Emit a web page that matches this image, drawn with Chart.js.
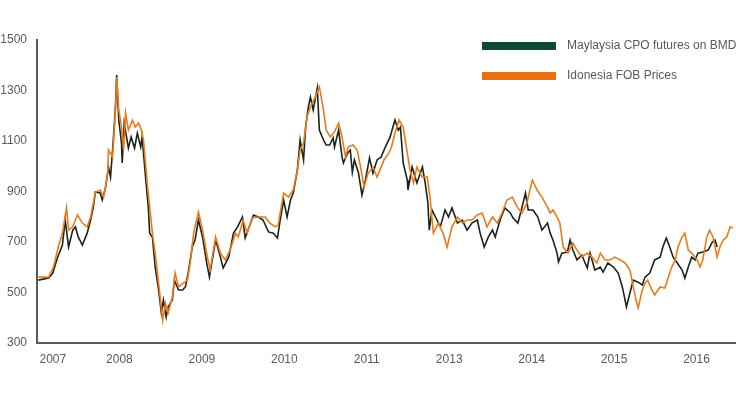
<!DOCTYPE html>
<html>
<head>
<meta charset="utf-8">
<script src="https://cdn.jsdelivr.net/npm/chart.js@4.4.0/dist/chart.umd.min.js"></script>
<style>
  body { margin: 0; background: #fff; }
  #wrap { width: 736px; height: 395px; }
</style>
</head>
<body>
<div id="wrap"><canvas id="grafica" width="736" height="395"></canvas></div>
<script>
// months since Jan 2007 and price (USD/t)
const malaysiaMonths = [0.2,1.7,2.3,3.0,3.7,4.1,4.6,5.2,5.6,6.0,6.6,7.3,7.8,8.2,8.5,9.2,9.5,10.0,10.4,10.7,11.0,11.4,11.6,11.9,12.3,12.4,12.7,13.3,13.7,14.2,14.6,15.1,15.3,15.8,16.2,16.4,16.8,17.2,17.7,18.1,18.4,18.8,19.1,19.7,20.0,20.6,21.2,21.6,22.0,22.6,23.0,23.5,24.1,24.7,25.1,26.0,26.7,27.1,27.9,28.6,29.2,29.9,30.3,31.1,31.5,32.2,32.9,33.7,34.4,35.0,35.4,35.9,36.4,36.9,37.3,37.9,38.3,38.8,39.1,39.5,39.8,40.2,40.8,41.1,41.7,42.1,42.6,43.1,43.3,43.9,44.4,44.6,45.2,45.6,45.9,46.2,46.8,47.3,47.8,48.4,48.9,49.5,50.1,50.7,51.4,52.1,52.6,52.9,53.3,53.9,54.0,54.6,55.3,56.1,56.5,56.9,57.1,57.5,58.0,58.7,59.4,59.9,60.4,61.2,61.9,62.6,63.3,64.1,64.5,65.1,65.7,66.3,66.7,67.4,68.1,68.9,69.3,70.0,70.6,71.1,71.5,72.2,72.9,73.5,74.3,74.7,75.1,75.7,75.9,76.4,77.2,77.6,78.0,78.6,79.3,80.1,80.5,81.2,82.0,82.4,83.1,83.9,84.6,85.2,85.8,86.3,86.8,87.5,88.1,88.5,89.2,89.9,90.7,91.1,91.6,92.1,92.6,93.2,93.9,94.3,94.8,95.3,95.8,96.2,96.9,97.7,98.3,98.7,99.0];
const malaysiaPrices = [549,557,577,640,688,787,680,747,760,720,688,735,787,838,898,894,866,918,997,957,1064,1223,1361,1183,1092,1013,1171,1072,1116,1072,1131,1076,1116,957,838,735,720,601,510,419,470,403,443,470,549,510,510,522,577,680,708,787,720,617,561,708,640,597,640,735,760,799,716,775,807,799,787,740,735,716,787,866,799,866,894,985,1104,1025,1155,1235,1274,1223,1310,1143,1104,1084,1084,1112,1076,1143,1037,1013,1052,1064,977,1025,973,886,945,1033,973,1025,1037,1076,1116,1183,1143,1155,1013,945,906,997,934,997,934,854,747,827,799,760,827,799,835,775,787,747,775,787,735,680,720,747,720,787,835,815,795,775,838,894,827,827,799,747,775,735,708,656,621,656,660,708,668,629,648,597,656,589,601,581,617,601,577,522,443,498,549,541,530,561,577,629,640,680,716,680,640,617,589,557,601,640,629,656,660,668,700,708,680];

const indonesiaMonths = [0.2,1.7,2.4,3.1,3.7,4.3,4.6,5.2,5.9,6.6,7.3,7.8,8.2,8.5,9.2,9.7,10.3,10.4,11.0,11.4,11.6,11.9,12.3,12.6,12.9,13.3,13.9,14.3,14.8,15.2,15.5,16.1,16.5,16.8,17.2,17.7,18.3,18.7,19.1,19.7,20.1,20.6,21.3,21.9,22.3,22.8,23.5,24.1,24.8,25.2,26.0,26.7,27.4,28.1,28.9,29.3,30.0,30.6,31.3,32.2,33.2,33.9,34.7,35.1,35.9,36.6,37.3,37.9,38.3,38.8,39.3,39.8,40.5,41.1,41.7,42.1,42.7,43.3,43.9,44.4,44.9,45.3,46.0,46.6,47.1,47.6,48.2,48.9,49.5,50.5,51.2,51.6,52.1,52.7,53.3,53.9,54.3,54.8,55.3,56.1,56.8,57.2,57.7,58.4,59.1,59.7,60.4,61.2,61.9,62.6,63.3,64.1,64.8,65.5,66.3,67.0,67.7,68.4,69.2,69.9,70.6,71.3,72.1,72.8,73.5,74.3,74.7,75.1,75.7,76.1,76.6,77.3,78.0,78.6,79.3,80.1,80.8,81.5,82.0,82.7,83.4,84.1,84.9,85.6,86.3,86.8,87.2,87.5,88.1,88.5,88.9,89.5,89.9,90.7,91.4,91.9,92.4,92.9,93.3,93.9,94.3,94.8,95.3,96.1,96.5,96.9,97.5,97.9,98.4,99.0,99.4,99.9,100.4,100.9,101.3];
const indonesiaPrices = [561,561,601,680,735,835,747,760,807,775,760,799,854,898,906,878,973,1064,1037,1211,1353,1223,1155,1064,1211,1143,1183,1155,1171,1143,1104,918,815,735,656,537,391,458,419,482,577,522,537,549,617,735,819,747,640,589,720,656,629,668,735,720,787,735,795,799,799,775,760,767,894,878,906,985,1064,1092,1195,1235,1274,1314,1223,1143,1116,1136,1171,1116,1037,1076,1084,1064,997,918,973,997,957,1025,1052,1076,1131,1183,1155,1052,985,934,997,957,957,878,735,775,735,680,760,799,775,787,787,807,815,760,799,775,815,866,878,838,815,854,945,906,878,838,815,827,799,775,680,656,696,668,640,656,640,617,656,629,629,640,629,617,589,522,470,439,510,537,549,510,490,522,518,561,601,629,680,720,735,668,656,629,601,629,720,747,720,640,680,708,720,760,755];

const tickMonths = [2.3, 12, 24, 36, 48, 60, 72, 84, 96];
const yearLabels = ['2007', '2008', '2009', '2010', '2011', '2013', '2014', '2015', '2016'];
const priceTicks = [300, 500, 700, 900, 1100, 1300, 1500];

const seriesNames = ['Maylaysia CPO futures on BMD', 'Idonesia FOB Prices'];
const legendColors = ['#0d4a36', '#e8700f'];

function toPoints(xs, ys) {
    return xs.map((x, i) => ({ x: x, y: ys[i] }));
}

const fuente = { family: "'Liberation Sans', Arial, sans-serif", size: 12 };
const gris = '#595959';

// leyenda vertical arriba a la derecha
const leyendaPlugin = {
    id: 'leyenda',
    afterDraw(chart) {
        const ctx = chart.ctx;
        const right = chart.chartArea.right;
        ctx.save();
        ctx.font = "12px 'Liberation Sans', Arial, sans-serif";
        ctx.textBaseline = 'middle';
        ctx.textAlign = 'left';
        seriesNames.forEach((nombre, i) => {
            const y = 46 + i * 30;
            ctx.fillStyle = legendColors[i];
            ctx.fillRect(right - 253, y - 4, 74, 8);
            ctx.fillStyle = gris;
            ctx.fillText(nombre, right - 168, y);
        });
        ctx.restore();
    }
};

new Chart(document.getElementById('grafica'), {
    type: 'line',
    data: {
        datasets: [
            {
                label: seriesNames[1],
                data: toPoints(indonesiaMonths, indonesiaPrices),
                borderColor: '#ec7a1c',
                borderWidth: 1.6,
                pointRadius: 0,
                tension: 0,
                order: 1
            },
            {
                label: seriesNames[0],
                data: toPoints(malaysiaMonths, malaysiaPrices),
                borderColor: '#1a2419',
                borderWidth: 1.6,
                pointRadius: 0,
                tension: 0,
                order: 2
            }
        ]
    },
    options: {
        responsive: false,
        animation: false,
        layout: { padding: { top: 40, right: 1, left: 0, bottom: 0 } },
        plugins: { legend: { display: false }, tooltip: { enabled: false } },
        scales: {
            x: {
                type: 'linear',
                min: 0,
                max: 101.6,
                grid: { display: false, drawTicks: false },
                border: { display: true, color: gris, width: 2 },
                afterBuildTicks: s => { s.ticks = tickMonths.map(v => ({ value: v })); },
                afterFit: s => { s.height = 52; },
                ticks: {
                    autoSkip: false,
                    maxRotation: 0,
                    padding: 9,
                    color: gris,
                    font: fuente,
                    callback: (v, i) => yearLabels[i]
                }
            },
            y: {
                min: 300,
                max: 1500,
                grid: { display: false, drawTicks: false },
                border: { display: true, color: gris, width: 2 },
                afterBuildTicks: s => { s.ticks = priceTicks.map(v => ({ value: v })); },
                afterFit: s => { s.width = 37; },
                ticks: {
                    padding: 10,
                    color: gris,
                    font: fuente,
                    callback: v => String(v)
                }
            }
        }
    },
    plugins: [leyendaPlugin]
});
</script>
</body>
</html>
